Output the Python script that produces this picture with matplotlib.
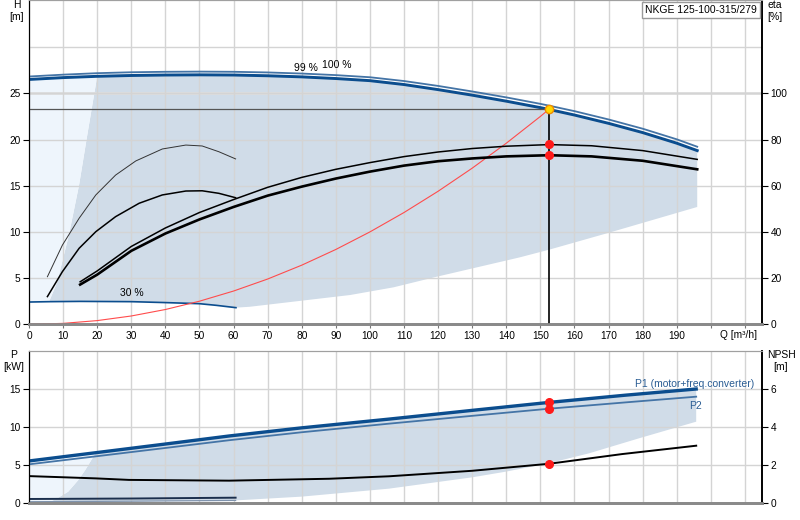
import numpy as np
import matplotlib.pyplot as plt

plt.rcParams['font.family'] = ['Liberation Sans', 'DejaVu Sans']
plt.rcParams['font.size'] = 7.3

# Q-H curves at full speed (H in m)
q_qh = np.array([0, 10, 20, 30, 40, 50, 60, 70, 80, 90, 100, 110, 120, 130, 140, 150,
                 152.6, 160, 170, 180, 190, 196])
h_99 = np.array([26.5, 26.7, 26.84, 26.93, 26.98, 27.0, 26.98, 26.9, 26.78, 26.6, 26.37,
                 25.95, 25.4, 24.8, 24.15, 23.45, 23.25, 22.65, 21.75, 20.75, 19.6, 18.8])
h_100 = np.array([26.82, 27.02, 27.18, 27.28, 27.33, 27.35, 27.33, 27.26, 27.14, 26.97, 26.74,
                  26.33, 25.8, 25.2, 24.56, 23.86, 23.66, 23.07, 22.17, 21.17, 20.02, 19.22])

# Q-H curve at minimum speed (30 %)
q_min = np.array([0, 6, 15, 30, 40, 50, 55, 60.7])
h_min = np.array([2.41, 2.45, 2.48, 2.45, 2.35, 2.23, 2.05, 1.8])

# operating area borders (top panel)
edge_q = [5.9, 8.3, 11.7, 14.7, 17.1, 20.0]
edge_h = [2.45, 4.6, 9.66, 15.1, 20.5, 26.84]
floor_q = [60.7, 64.8, 94.2, 106.9, 119.6, 144.0, 152.8, 170.0, 196.0]
floor_h = [1.8, 1.9, 3.17, 4.0, 5.15, 7.25, 8.1, 9.9, 12.7]

# efficiency curves (%), full speed
q_eta = [15, 20, 30, 40, 50, 60, 70, 80, 90, 100, 110, 120, 130, 140, 152.6, 165, 180, 196]
eta_pump = [18.4, 23.1, 33.7, 41.7, 48.4, 54.0, 59.3, 63.6, 67.1, 70.0, 72.6, 74.6, 76.1,
            77.1, 77.8, 77.3, 75.2, 71.4]
eta_tot = [17.2, 21.5, 31.8, 39.3, 45.4, 50.8, 55.7, 59.6, 63.1, 66.1, 68.7, 70.6, 71.8,
           72.7, 73.2, 72.7, 70.8, 67.1]

# efficiency curves (%), minimum speed
q_eta_min1 = [5.4, 9.8, 14.7, 19.6, 25.4, 31.3, 39.1, 46.0, 50.8, 55.7, 60.6]
eta_min1 = [20.6, 34.3, 45.9, 56.0, 64.6, 70.7, 75.9, 77.6, 77.2, 74.7, 71.6]
q_eta_min2 = [5.4, 9.8, 14.7, 19.6, 25.4, 32.3, 39.1, 46.0, 50.8, 55.7, 60.6]
eta_min2 = [12.0, 22.8, 32.9, 40.1, 46.6, 52.4, 56.0, 57.7, 57.8, 56.7, 54.8]

# system curve
q_sys = [0, 10, 20, 30, 40, 50, 60, 70, 80, 90, 100, 110, 120, 130, 140, 150, 152.6]
h_sys = [0, 0.1, 0.4, 0.9, 1.6, 2.5, 3.6, 4.9, 6.4, 8.1, 10.0, 12.1, 14.4, 16.9, 19.6,
         22.5, 23.3]

# duty point
q_duty = 152.6
h_duty = 23.3
eta_duty = [77.9, 73.2]
p_duty = [13.2, 12.37]
npsh_duty = 2.05

# power curves (kW)
q_p = np.array([0, 19.6, 40, 58.7, 80, 105.6, 130, 152.6, 175, 195.7])
p1 = np.array([5.49, 6.58, 7.72, 8.78, 9.85, 11.0, 12.15, 13.2, 14.15, 14.96])
p2 = np.array([5.05, 6.1, 7.2, 8.22, 9.27, 10.4, 11.43, 12.37, 13.2, 13.95])
q_p_min = np.array([0, 6.2, 30, 60.6])
p1_min = np.array([0.49, 0.5, 0.55, 0.66])
p2_min = np.array([0.13, 0.14, 0.2, 0.3])

# operating area borders (bottom panel)
p_edge_q = [6.2, 8.0, 11.5, 14.5, 16.5, 19.6]
p_edge_p = [0.14, 0.5, 1.45, 3.0, 4.3, 6.58]
p_floor_q = [60.6, 80, 105.6, 130, 139.8, 152.6, 164.3, 178.9, 195.7]
p_floor_p = [0.3, 0.8, 1.85, 3.34, 4.08, 5.2, 6.5, 8.47, 10.66]

# NPSH (m)
q_npsh = [0, 19.6, 29.3, 58.7, 88, 105.6, 130, 152.6, 174, 195.7]
npsh = [1.40, 1.28, 1.20, 1.16, 1.26, 1.39, 1.68, 2.05, 2.56, 3.0]

AREA = '#d0dce8'
LIGHT = '#eef5fc'
DARK = '#0b4d8e'
MID = '#4474a6'
GRID = '#d4d4d4'

fig = plt.figure(figsize=(8, 5.2), dpi=100)
ax1 = fig.add_axes([29 / 800, 1 - 324.3 / 520, 733 / 800, 324.3 / 520])
ax1r = ax1.twinx()
ax2 = fig.add_axes([29 / 800, 1 - 502.7 / 520, 733 / 800, 152 / 520])
ax2r = ax2.twinx()

# ---- top panel ----
m = q_qh >= 20
poly_q = list(edge_q) + list(q_qh[m]) + floor_q[::-1] + list(q_min[q_min >= 6][::-1])
poly_h = list(edge_h) + list(h_99[m]) + floor_h[::-1] + list(h_min[q_min >= 6][::-1])
ax1.fill(poly_q, poly_h, color=AREA, lw=0, zorder=1)
m = q_qh <= 20
lq = list(q_qh[m]) + edge_q[::-1] + list(q_min[q_min <= 6][::-1])
lh = list(h_99[m]) + edge_h[::-1] + list(h_min[q_min <= 6][::-1])
ax1.fill(lq, lh, color=LIGHT, lw=0, zorder=1)

ax1.set_axisbelow('line')
ax1.grid(True, color=GRID, lw=1)
ax1.axhline(30, color=GRID, lw=1, zorder=1.5)
ax1.axhline(25, color='#dedede', lw=2, zorder=1.5)

ax1.plot(q_qh, h_100, color=MID, lw=1.3, zorder=3)
ax1.plot(q_qh, h_99, color=DARK, lw=2.1, zorder=3)
ax1.plot(q_min, h_min, color=DARK, lw=1.2, zorder=3)
ax1.plot(q_sys, h_sys, color='#ff4c4c', lw=0.8, zorder=3)
ax1.plot([0, q_duty], [h_duty, h_duty], color='#555555', lw=0.9, zorder=3)
ax1.plot([q_duty, q_duty], [0, h_duty], color='black', lw=1.2, zorder=3)
ax1.plot(q_duty, h_duty, 'o', ms=6, mfc='#ffd800', mec='#f08c00', mew=1, zorder=6)

ax1r.plot(q_eta, eta_pump, color='black', lw=1.1)
ax1r.plot(q_eta, eta_tot, color='black', lw=1.9)
ax1r.plot(q_eta_min1, eta_min1, color='#333333', lw=0.7)
ax1r.plot(q_eta_min2, eta_min2, color='black', lw=1.1)
ax1r.plot([q_duty] * 2, eta_duty, 'o', ms=5.5, color='#ff1a1a', zorder=5)

ax1.text(81.3, 27.7, '99 %', ha='center', va='center', fontsize=7.5, zorder=7)
ax1.text(90.3, 28.05, '100 %', ha='center', va='center', fontsize=7.5, zorder=7)
ax1.text(30.2, 3.4, '30 %', ha='center', va='center', fontsize=7.5, zorder=7)

ax1.set_xlim(0, 215)
ax1.set_ylim(0, 35.1)
ax1r.set_ylim(0, 140.4)
xt = np.arange(0, 211, 10)
ax1.set_xticks(xt)
ax1.set_xticklabels([str(v) if v < 200 else '' for v in xt])
ax1.set_yticks(np.arange(0, 26, 5))
ax1r.set_yticks(np.arange(0, 101, 20))
ax1.tick_params(axis='x', length=3, color='#777777', pad=1.5, labelsize=7.3)
ax1.tick_params(axis='y', length=4, pad=2, labelsize=7.3)
ax1r.tick_params(axis='y', length=4, pad=2, labelsize=7.3)

for ax in (ax1, ax1r, ax2, ax2r):
    ax.spines['bottom'].set_color('#8a8a8a')
    ax.spines['bottom'].set_linewidth(2)
    ax.spines['top'].set_color('#a0a0a0')
    ax.spines['left'].set_color('black')
    ax.spines['right'].set_color('black')
    ax.spines['right'].set_linewidth(1.2)

# ---- bottom panel ----
m = q_p >= 19.6
pm = q_p_min >= 6.2
bq = p_edge_q + list(q_p[m]) + p_floor_q[::-1] + list(q_p_min[pm][::-1])
bp = p_edge_p + list(p1[m]) + p_floor_p[::-1] + list(p2_min[pm][::-1])
ax2.fill(bq, bp, color=AREA, lw=0, zorder=1)
m = q_p <= 19.6
pm = q_p_min <= 6.2
lq = list(q_p[m]) + p_edge_q[::-1] + list(q_p_min[pm][::-1])
lp = list(p1[m]) + p_edge_p[::-1] + list(p2_min[pm][::-1])
ax2.fill(lq, lp, color=LIGHT, lw=0, zorder=1)

ax2.set_axisbelow('line')
ax2.grid(True, color=GRID, lw=1)
ax2.plot(q_p, p2, color=MID, lw=1.3, zorder=3)
ax2.plot(q_p, p1, color=DARK, lw=2.4, zorder=3)
ax2.plot(q_p_min, p2_min, color='#7f93ad', lw=0.9, zorder=3)
ax2.plot(q_p_min, p1_min, color='#1b2f4d', lw=1.4, zorder=3)
ax2.plot([q_duty] * 2, p_duty, 'o', ms=5.5, color='#ff1a1a', zorder=5)
ax2r.plot(q_npsh, npsh, color='black', lw=1.4)
ax2r.plot(q_duty, npsh_duty, 'o', ms=5.5, color='#ff1a1a', zorder=5)

ax2.text(177.8, 15.6, 'P1 (motor+freq.converter)', color='#2a5d94', fontsize=7.5,
         ha='left', va='center')
ax2.text(193.6, 12.75, 'P2', color='#2a5d94', fontsize=7.5, ha='left', va='center')

ax2.set_xlim(0, 215)
ax2.set_ylim(0, 20)
ax2r.set_ylim(0, 8)
ax2.set_xticks(xt)
ax2.set_xticklabels([])
ax2.tick_params(axis='x', length=0)
ax2.set_yticks([0, 5, 10, 15])
ax2r.set_yticks([0, 2, 4, 6])
ax2.tick_params(axis='y', length=4, pad=2, labelsize=7.3)
ax2r.tick_params(axis='y', length=4, pad=2, labelsize=7.3)

# ---- labels ----
fig.text(17 / 800, 1 - 11 / 520, 'H\n[m]', ha='center', va='center', fontsize=7.5,
         linespacing=1.25)
fig.text(774.5 / 800, 1 - 11 / 520, 'eta\n[%]', ha='center', va='center', fontsize=7.5,
         linespacing=1.25)
fig.text(13.5 / 800, 1 - 361 / 520, 'P\n[kW]', ha='center', va='center', fontsize=7.5,
         linespacing=1.25)
fig.text(781 / 800, 1 - 361 / 520, 'NPSH\n[m]', ha='center', va='center', fontsize=7.5,
         linespacing=1.25)
fig.text(757 / 800, 1 - 334.5 / 520, 'Q [m³/h]', ha='right', va='center', fontsize=7.3)
fig.text(757 / 800, 1 - 10 / 520, 'NKGE 125-100-315/279', ha='right', va='center',
         fontsize=7.5,
         bbox=dict(boxstyle='square,pad=0.3', fc='white', ec='#9a9a9a', lw=1))

fig.savefig('out.png', dpi=100)
